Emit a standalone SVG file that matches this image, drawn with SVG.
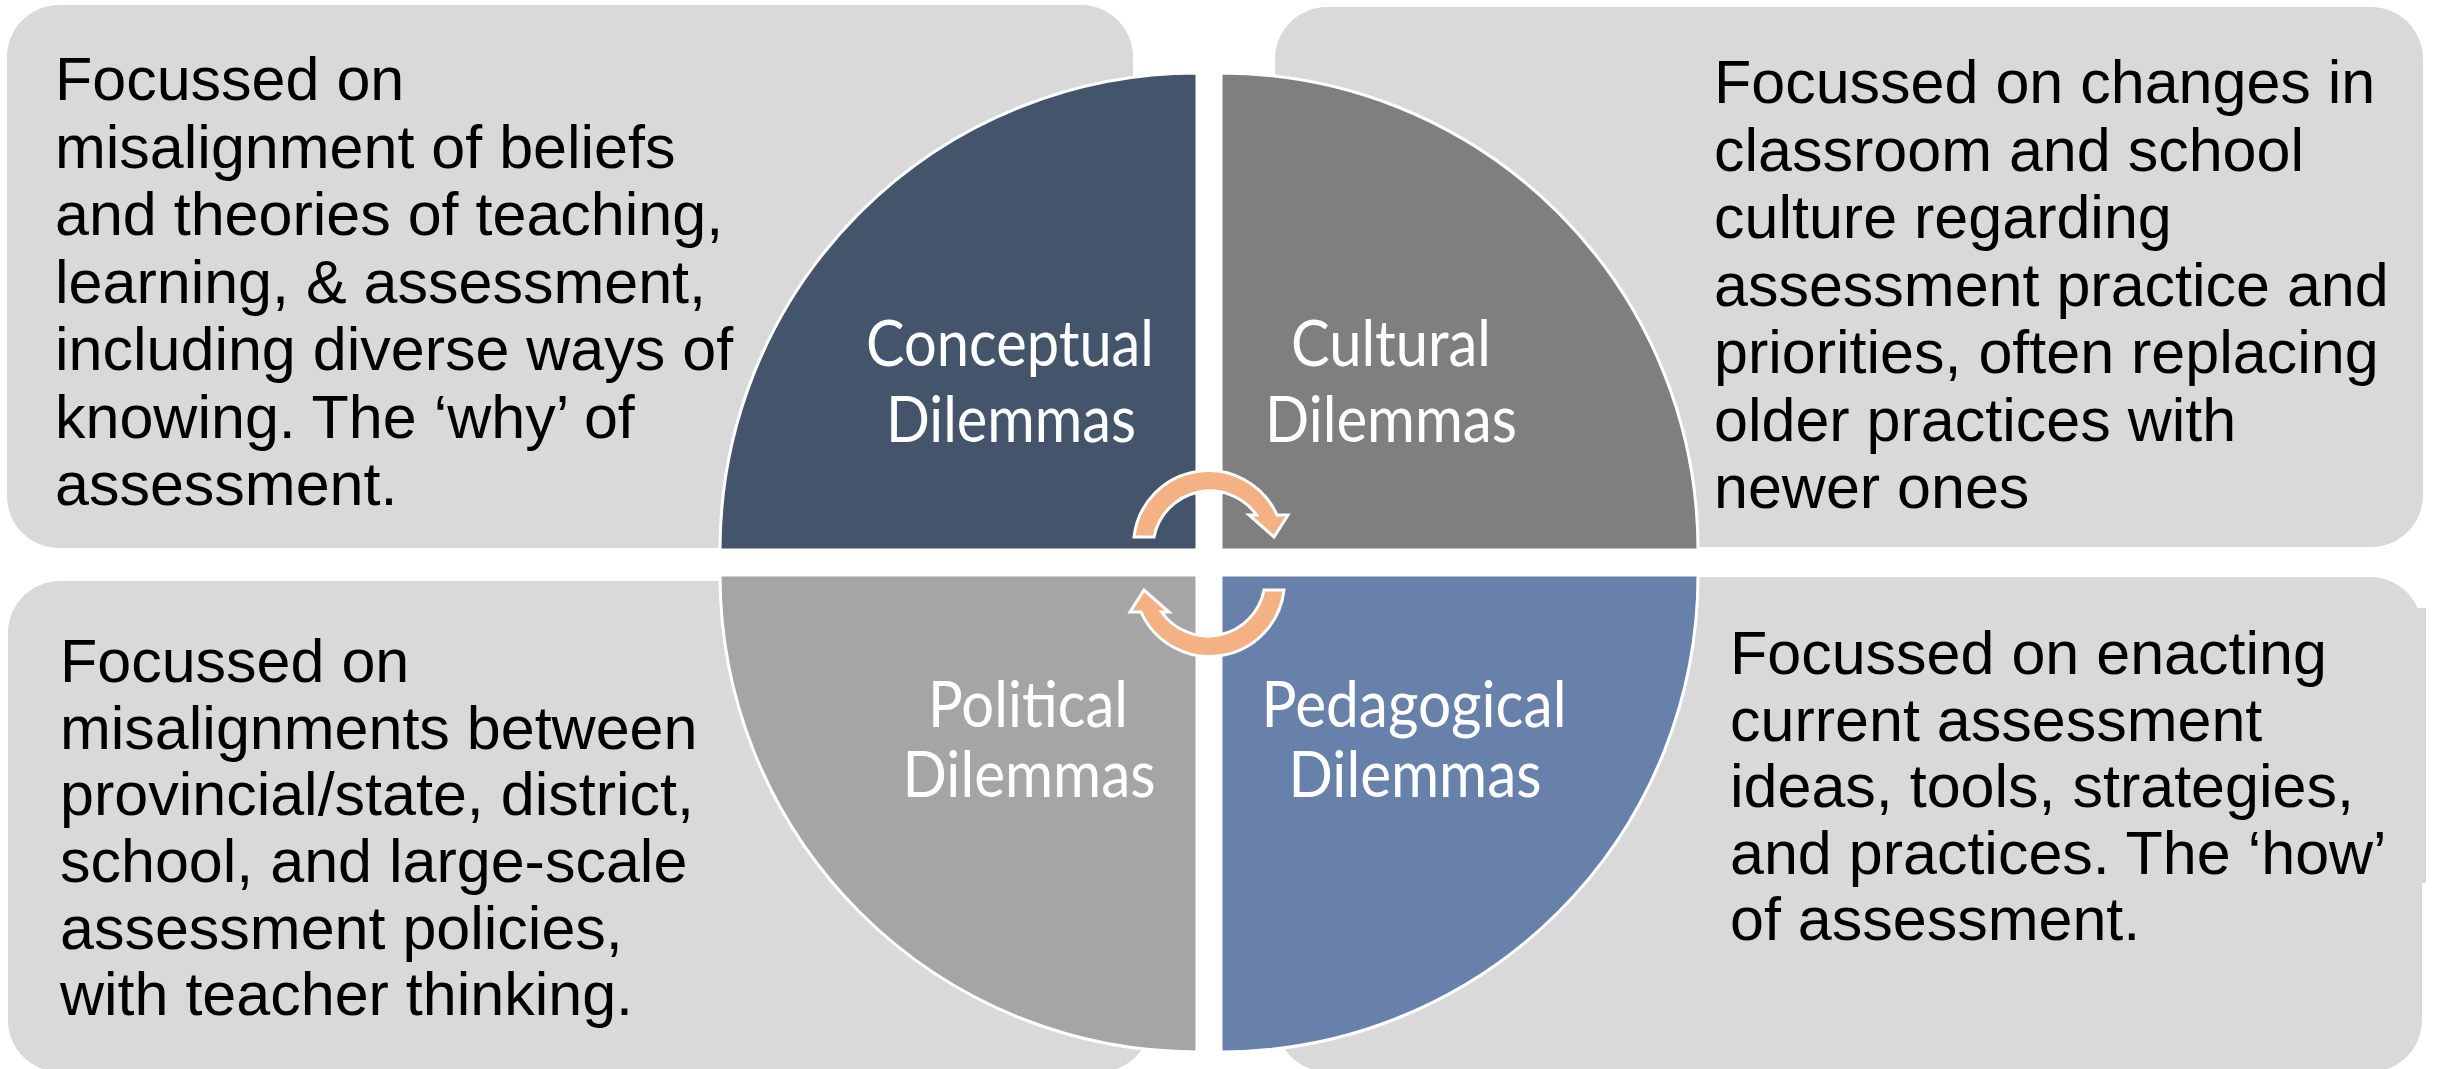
<svg xmlns="http://www.w3.org/2000/svg" width="2440" height="1069" viewBox="0 0 2440 1069">
  <style>
    .box { fill: #D9D9D9; }
    .body { font-family: "Liberation Sans", Arial, sans-serif; font-size: 61px; fill: #000000; }
    .label { font-family: Lato, "Open Sans", sans-serif; font-size: 63px; fill: #FFFFFF; }
    .quad { stroke: #FFFFFF; stroke-width: 3; }
    .arrow { fill: #F4B183; stroke: #FFFFFF; stroke-width: 3; stroke-linejoin: miter; }
  </style>
  <rect width="2440" height="1069" fill="#FFFFFF"/>

  <g id="box-conceptual">
    <rect class="box" x="7" y="5" width="1126" height="543" rx="52" ry="52"/>
  </g>
  <g id="box-cultural">
    <rect class="box" x="1275" y="7" width="1148" height="540" rx="52" ry="52"/>
  </g>
  <g id="box-political">
    <rect class="box" x="8" y="581" width="1143" height="491" rx="52" ry="52"/>
  </g>
  <g id="box-pedagogical">
    <rect class="box" x="1276" y="577" width="1146" height="495" rx="52" ry="52"/>
    <rect class="box" x="2410" y="608" width="16" height="275"/>
  </g>

  <g id="quadrant-conceptual">
    <path class="quad" fill="#44546A" d="M1197,550 L720,550 A477,477 0 0 1 1197,73 Z"/>
  </g>
  <g id="quadrant-cultural">
    <path class="quad" fill="#7F7F7F" d="M1221,550 L1221,73 A477,477 0 0 1 1698,550 Z"/>
  </g>
  <g id="quadrant-political">
    <path class="quad" fill="#A5A5A5" d="M1197,575 L1197,1052 A477,477 0 0 1 720,575 Z"/>
  </g>
  <g id="quadrant-pedagogical">
    <path class="quad" fill="#6881AA" d="M1221,575 L1698,575 A477,477 0 0 1 1221,1052 Z"/>
  </g>

  <g id="connectors">
    <path id="arrow-top" class="arrow" d="M1134,537 A75,75 0 0 1 1277,515 L1288,515 L1274,537 L1249,515 L1256.5,515 A57,57 0 0 0 1154,537 Z"/>
    <path id="arrow-bottom" class="arrow" transform="rotate(180 1209 563.5)" d="M1134,537 A75,75 0 0 1 1277,515 L1288,515 L1274,537 L1249,515 L1256.5,515 A57,57 0 0 0 1154,537 Z"/>
  </g>

  <g id="label-conceptual" class="label" text-anchor="middle">
    <text x="1010" y="366" textLength="288" lengthAdjust="spacingAndGlyphs">Conceptual</text>
    <text x="1011" y="442" textLength="250" lengthAdjust="spacingAndGlyphs">Dilemmas</text>
  </g>
  <g id="label-cultural" class="label" text-anchor="middle">
    <text x="1391" y="366" textLength="200" lengthAdjust="spacingAndGlyphs">Cultural</text>
    <text x="1391" y="442" textLength="252" lengthAdjust="spacingAndGlyphs">Dilemmas</text>
  </g>
  <g id="label-political" class="label" text-anchor="middle">
    <text x="1028" y="727" textLength="200" lengthAdjust="spacingAndGlyphs">Political</text>
    <text x="1029" y="797" textLength="253" lengthAdjust="spacingAndGlyphs">Dilemmas</text>
  </g>
  <g id="label-pedagogical" class="label" text-anchor="middle">
    <text x="1414" y="727" textLength="305" lengthAdjust="spacingAndGlyphs">Pedagogical</text>
    <text x="1415" y="797" textLength="253" lengthAdjust="spacingAndGlyphs">Dilemmas</text>
  </g>

  <g id="text-conceptual" class="body">
    <text x="55" y="100">Focussed on</text>
    <text x="55" y="167.5">misalignment of beliefs</text>
    <text x="55" y="235">and theories of teaching,</text>
    <text x="55" y="302.5">learning, &amp; assessment,</text>
    <text x="55" y="370">including diverse ways of</text>
    <text x="55" y="437.5">knowing. The ‘why’ of</text>
    <text x="55" y="505">assessment.</text>
  </g>
  <g id="text-cultural" class="body">
    <text x="1714" y="103">Focussed on changes in</text>
    <text x="1714" y="170.5">classroom and school</text>
    <text x="1714" y="238">culture regarding</text>
    <text x="1714" y="305.5">assessment practice and</text>
    <text x="1714" y="373">priorities, often replacing</text>
    <text x="1714" y="440.5">older practices with</text>
    <text x="1714" y="508">newer ones</text>
  </g>
  <g id="text-political" class="body">
    <text x="60" y="682">Focussed on</text>
    <text x="60" y="748.7">misalignments between</text>
    <text x="60" y="815.4">provincial/state, district,</text>
    <text x="60" y="882">school, and large-scale</text>
    <text x="60" y="948.7">assessment policies,</text>
    <text x="60" y="1015.4">with teacher thinking.</text>
  </g>
  <g id="text-pedagogical" class="body">
    <text x="1730" y="674">Focussed on enacting</text>
    <text x="1730" y="740.5">current assessment</text>
    <text x="1730" y="807">ideas, tools, strategies,</text>
    <text x="1730" y="873.5">and practices. The ‘how’</text>
    <text x="1730" y="940">of assessment.</text>
  </g>
</svg>
